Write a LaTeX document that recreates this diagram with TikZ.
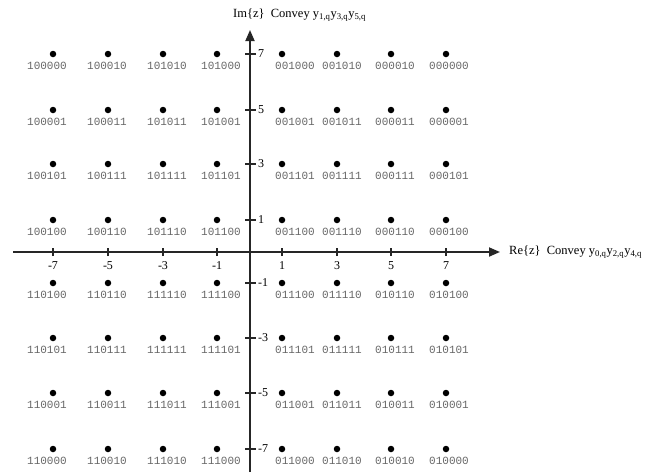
\documentclass[tikz,border=0pt]{standalone}
\usepackage{fontspec}
\setmainfont{Liberation Serif}
\setmonofont{Liberation Mono}
\usetikzlibrary{arrows.meta,positioning}

\begin{document}
\begin{tikzpicture}[x=1pt, y=-1pt,
  pt/.style={circle, fill=black, inner sep=0pt, minimum size=6.5pt},
  bits/.style={font=\fontsize{11}{11}\ttfamily, text=black!60, inner sep=1pt},
  axisline/.style={-{Triangle[length=11pt,width=9pt]}, line width=1.8pt, black!85},
  ticmark/.style={line width=1.2pt, black!85},
  num/.style={font=\fontsize{12}{12}\selectfont, inner sep=0pt},
  axlabel/.style={font=\fontsize{12.5}{12.5}\selectfont, anchor=west, inner sep=0pt}
]
\useasboundingbox (0,0) rectangle (659,472);

% axes
\coordinate (xs) at (13,252);
\coordinate (xe) at (500,252);
\coordinate (ys) at (250,472);
\coordinate (ye) at (250,30);
\draw[axisline] (xs) -- (xe);
\draw[axisline] (ys) -- (ye);

\node[axlabel] (im) at (233,15) {Im\{z\}\ \ Convey y\textsubscript{1,q}y\textsubscript{3,q}y\textsubscript{5,q}};
\node[axlabel] (re) at (509,252) {Re\{z\}\ \ Convey y\textsubscript{0,q}y\textsubscript{2,q}y\textsubscript{4,q}};

% ticks on the real axis
\foreach \v/\xx in {-7/53,-5/108,-3/163,-1/217,1/282,3/337,5/391,7/446}{
  \coordinate (xt\v) at (\xx,252);
  \draw[ticmark] ([yshift=-4pt]xt\v) -- ([yshift=4pt]xt\v);
  \node[num] (xn\v) at (\xx,266) {\v};
}

% ticks on the imaginary axis
\foreach \v/\yy in {7/54,5/110,3/164,1/220,-1/283,-3/338,-5/393,-7/449}{
  \coordinate (yt\v) at (250,\yy);
  \draw[ticmark] ([xshift=-5pt]yt\v) -- ([xshift=6pt]yt\v);
  \node[num, anchor=west] (yn\v) at (258,\yy) {\v};
}

% constellation points and their labels
\def\colx{{53,108,163,217,282,337,391,446}}
\def\laboff{{-6,-1,4,4,13,5,4,3}}
\foreach \yy/\labs [count=\ri] in {
  54/{100000,100010,101010,101000,001000,001010,000010,000000},
  110/{100001,100011,101011,101001,001001,001011,000011,000001},
  164/{100101,100111,101111,101101,001101,001111,000111,000101},
  220/{100100,100110,101110,101100,001100,001110,000110,000100},
  283/{110100,110110,111110,111100,011100,011110,010110,010100},
  338/{110101,110111,111111,111101,011101,011111,010111,010101},
  393/{110001,110011,111011,111001,011001,011011,010011,010001},
  449/{110000,110010,111010,111000,011000,011010,010010,010000}}{
  \foreach \lab [count=\ci] in \labs {
    \pgfmathsetmacro\px{\colx[\ci-1]}
    \pgfmathsetmacro\dx{\laboff[\ci-1]}
    \node[pt] (d\ri\ci) at (\px,\yy) {};
    \node[bits, below=3.5pt of d\ri\ci, xshift=\dx pt] (l\ri\ci) {\lab};
  }
}
\end{tikzpicture}
\end{document}
